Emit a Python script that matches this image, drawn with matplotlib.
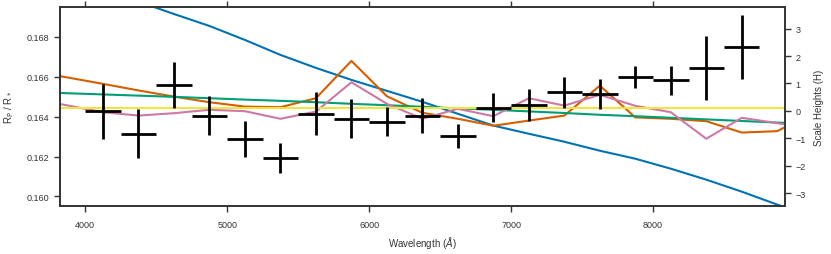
import numpy as np
import matplotlib
matplotlib.use('Agg')
import matplotlib.pyplot as plt

plt.rcParams['font.family'] = ['Liberation Sans', 'DejaVu Sans']
plt.rcParams['mathtext.fontset'] = 'dejavusans'

# measured transit depths, binned (250 A bins)
wave = [4125, 4375, 4625, 4875, 5125, 5375, 5625, 5875, 6125, 6375,
        6625, 6875, 7125, 7375, 7625, 7875, 8125, 8375, 8625]
rprs = [0.16426, 0.16315, 0.16560, 0.16405, 0.16289, 0.16192, 0.16414, 0.16389, 0.16375, 0.16405,
        0.16305, 0.16445, 0.16459, 0.16522, 0.16514, 0.16598, 0.16581, 0.16644, 0.16750]
rprs_err = [0.00137, 0.00124, 0.00115, 0.00097, 0.00090, 0.00074, 0.00108, 0.00097, 0.00071, 0.00087,
            0.00060, 0.00072, 0.00080, 0.00077, 0.00075, 0.00054, 0.00071, 0.00160, 0.00160]
bin_half = 125

# model spectra at bin centres (incl. bins outside the plotted range)
model_wave = [3625, 3875, 4125, 4375, 4625, 4875, 5125, 5375, 5625, 5875, 6125,
              6375, 6625, 6875, 7125, 7375, 7625, 7875, 8125, 8375, 8625, 8875, 9125]
model_rayleigh = [0.17170, 0.17109, 0.17044, 0.16976, 0.16914, 0.16854, 0.16784, 0.16709, 0.16644, 0.16584, 0.16529,
                  0.16474, 0.16414, 0.16355, 0.16314, 0.16274, 0.16229, 0.16189, 0.16139, 0.16084, 0.16024, 0.15959, 0.15899]
model_nak = [0.16627, 0.16596, 0.16564, 0.16531, 0.16500, 0.16472, 0.16450, 0.16447, 0.16492, 0.16679, 0.16502,
             0.16419, 0.16389, 0.16354, 0.16380, 0.16405, 0.16555, 0.16396, 0.16389, 0.16377, 0.16320, 0.16327, 0.16419]
model_haze = [0.16524, 0.16517, 0.16511, 0.16505, 0.16499, 0.16492, 0.16485, 0.16479, 0.16472, 0.16464, 0.16457,
              0.16449, 0.16441, 0.16434, 0.16426, 0.16418, 0.16409, 0.16402, 0.16394, 0.16386, 0.16378, 0.16370, 0.16363]
model_clear = [0.16489, 0.16456, 0.16422, 0.16405, 0.16417, 0.16434, 0.16427, 0.16389, 0.16425, 0.16572, 0.16464,
               0.16389, 0.16439, 0.16402, 0.16492, 0.16455, 0.16509, 0.16454, 0.16422, 0.16289, 0.16394, 0.16367, 0.16339]
model_flat = [0.16442] * len(model_wave)

fig = plt.figure(figsize=(8.31, 2.55), dpi=100)
ax = fig.add_axes([0.0722, 0.1882, 0.8725, 0.7804])

ax.plot(model_wave, model_rayleigh, color='#0072B2', lw=1.5)
ax.plot(model_wave, model_nak, color='#D55E00', lw=1.5)
ax.plot(model_wave, model_haze, color='#009E73', lw=1.5)
ax.plot(model_wave, model_clear, color='#CC79A7', lw=1.5)
ax.plot(model_wave, model_flat, color='#F0E442', lw=1.5)

ax.errorbar(wave, rprs, yerr=rprs_err, xerr=bin_half, fmt='none',
            ecolor='black', elinewidth=2.0, capsize=0, zorder=5)

ax.set_xlim(3822, 8930)
ax.set_ylim(0.15952, 0.16949)
ax.set_xticks([4000, 5000, 6000, 7000, 8000])
ax.set_yticks([0.160, 0.162, 0.164, 0.166, 0.168])
ax.yaxis.set_major_formatter(matplotlib.ticker.FormatStrFormatter('%.3f'))
ax.tick_params(direction='out', length=4, width=1, labelsize=6.5,
               colors='#333333', top=True)
ax.tick_params(axis='x', pad=6)
ax.set_xlabel(r'Wavelength ($\AA$)', fontsize=7, color='#333333')
ax.set_ylabel(r'R$_\mathrm{P}$ / R$_*$', fontsize=7, color='#333333', labelpad=8)
for s in ax.spines.values():
    s.set_linewidth(1.2)
    s.set_color('#333333')

ax2 = ax.twinx()
ax2.set_ylim(-3.465, 3.785)
ax2.set_yticks([-3, -2, -1, 0, 1, 2, 3])
ax2.set_yticklabels(['\u22123', '\u22122', '\u22121', '0', '1', '2', '3'])
ax2.tick_params(direction='out', length=4, width=1, labelsize=6.5, colors='#333333')
ax2.set_ylabel('Scale Heights (H)', fontsize=7, color='#333333', labelpad=6)
for s in ax2.spines.values():
    s.set_linewidth(1.2)
    s.set_color('#333333')

fig.savefig('out.png', dpi=100)
